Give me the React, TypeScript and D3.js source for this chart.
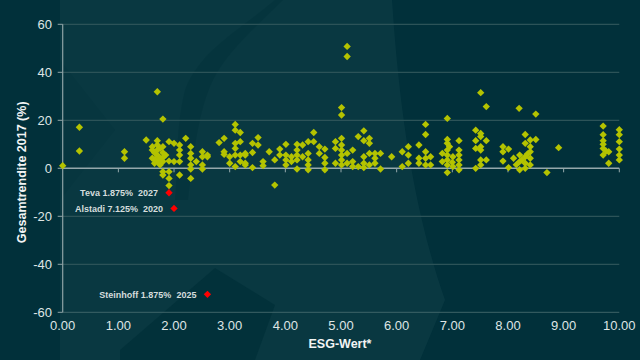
import React from "react";
import * as d3 from "d3";

const xTicks = [0, 1, 2, 3, 4, 5, 6, 7, 8, 9, 10];
const yTicks = [-60, -40, -20, 0, 20, 40, 60];

const bondPoints: [number, number][] = [
  [0.0, 1.1], [0.3, 17.1], [0.3, 7.2], [1.11, 6.9], [1.11, 4.2], [1.7, 31.9], [1.8, 20.5],
  [1.5, 11.8], [1.7, 11.5], [1.61, 9.0], [1.61, 7.6], [1.61, 4.2], [1.66, 3.8], [1.7, 9.7],
  [1.7, 7.6], [1.7, 5.5], [1.7, 2.8], [1.75, 4.2], [1.8, 9.0], [1.8, 6.5], [1.8, 2.8],
  [1.8, -1.4], [1.8, -2.8], [1.91, 11.1], [1.91, 3.0], [1.91, -1.4], [1.91, -4.2], [1.91, -7.2],
  [2.0, 10.4], [2.0, 2.8], [2.1, 9.7], [2.1, 7.6], [2.1, 5.5], [2.1, 2.8], [2.1, -2.8],
  [2.21, 12.5], [2.3, 9.0], [2.3, 6.2], [2.3, 4.2], [2.3, 1.4], [2.3, -0.3], [2.3, -4.2],
  [2.4, 2.8], [2.51, 6.9], [2.51, 4.8], [2.51, 1.4], [2.51, -0.3], [2.6, 5.5], [2.6, 4.8],
  [1.65, 6.5], [1.75, 8.3], [1.65, 2.1], [1.75, 1.4], [1.8, 4.5], [1.85, 5.5],
  [2.81, 10.7], [2.9, 12.5], [2.9, 6.9], [2.9, 5.8], [3.0, 4.8], [3.0, 2.1], [3.1, 18.3],
  [3.1, 15.9], [3.19, 14.9], [3.1, 10.4], [3.1, 8.3], [3.19, 11.1], [3.1, 5.5], [3.1, 0.7],
  [3.19, 5.5], [3.19, 2.8], [3.28, 5.5], [3.28, 1.4],
  [3.51, 12.8], [3.41, 10.4], [3.51, 9.7], [3.41, 6.6], [3.28, 6.2], [3.28, 2.1], [3.41, 0.3],
  [3.6, 2.8], [3.6, 1.1], [3.71, 6.9], [3.81, 3.5], [3.81, -7.0], [3.9, 8.0], [3.9, 5.5],
  [4.01, 10.0], [4.01, 5.5], [4.01, 3.5], [4.01, 1.4], [4.11, 4.8], [4.11, 2.8], [4.21, 10.0],
  [4.21, 7.6], [4.21, 5.5], [4.21, 3.5], [4.21, -0.3], [4.31, 9.7], [4.31, 4.8], [4.41, 11.1],
  [4.41, 6.2], [4.41, 3.5], [4.41, 1.4], [4.41, -0.6], [4.51, 14.9], [4.51, 11.1], [4.61, 9.0],
  [4.61, 6.2], [4.71, 8.0], [4.71, 4.5], [4.71, 2.1], [4.71, -0.6], [4.9, 11.1], [4.9, 8.3],
  [4.9, 2.1], [5.01, 25.3], [5.01, 22.2], [5.11, 50.8], [5.11, 46.6], [5.01, 12.5], [5.01, 9.7],
  [5.01, 7.6], [5.01, 5.5], [5.01, 3.5], [5.01, 1.4], [5.11, 6.2], [5.11, 2.1], [5.21, 7.6],
  [5.21, 2.8], [5.21, 0.7], [5.31, 13.2], [5.31, 0.7], [5.41, 15.6], [5.41, 11.5], [5.41, 4.8],
  [5.41, 2.1], [5.41, 0.3], [5.51, 12.5], [5.51, 10.4], [5.51, 6.2], [5.51, 1.4], [5.61, 6.2],
  [5.61, 4.2], [5.61, 2.1], [5.71, 6.2], [5.71, -0.3], [5.91, 4.8], [6.1, 6.9], [6.1, 0.7],
  [6.21, 9.0], [6.21, 5.5], [6.21, 2.1], [6.4, 9.7], [6.4, 4.2], [6.4, 2.1], [6.52, 18.3],
  [6.52, 14.1], [6.52, 6.9], [6.52, 4.2], [6.52, 1.4], [6.61, 4.8], [6.61, 1.4],
  [7.51, 31.5], [7.61, 25.7], [8.2, 25.0], [8.5, 22.6], [6.91, 20.8], [6.82, 6.2], [6.82, 2.8],
  [6.91, 12.0], [6.91, 10.4], [6.91, 7.6], [6.91, 5.5], [6.91, 3.5], [6.91, 1.4], [6.91, -1.8],
  [7.01, 4.8], [7.01, 0.7], [7.12, 11.5], [7.12, 7.6], [7.12, 5.5], [7.12, 3.5], [7.12, 1.4],
  [7.12, -0.6], [7.42, 15.9], [7.42, 11.5], [7.42, 8.3], [7.42, 0.0], [7.51, 14.5], [7.51, 13.2],
  [7.51, 9.0], [7.51, 7.6], [7.51, 3.5], [7.51, 1.4], [7.61, 11.5], [7.61, 3.5], [7.91, 9.0],
  [7.91, 6.9], [7.91, 3.0], [8.01, 8.0], [8.01, 0.3], [8.1, 4.2], [8.21, 5.5], [8.21, 2.8],
  [8.21, -0.6], [8.31, 14.1], [8.31, 10.4], [8.31, 4.8], [8.31, 2.1], [8.31, 0.0], [8.4, 11.8],
  [8.4, 9.0], [8.4, 6.9], [8.4, 4.2], [8.4, 1.4], [8.5, 12.0], [8.7, -1.8], [8.91, 8.6],
  [9.71, 17.6], [9.71, 11.5], [9.71, 8.3], [9.71, 5.5], [9.81, 6.9], [9.81, 2.1], [10.0, 16.1],
  [10.0, 11.1], [10.0, 5.5], [10.0, 3.5],
  [8.25, 3.5], [8.35, 6.0], [8.15, 1.5], [7.0, 2.5], [6.95, 9.0], [9.71, 14.0], [10.0, 8.0],
  [10.0, 14.0], [9.71, 10.0], [9.76, 7.2],
];

const highlightNames = ["Teva 1.875%  2027", "Alstadi 7.125%  2020", "Steinhoff 1.875%  2025"];
const highlightEsg = [1.91, 2.0, 2.6];
const highlightReturn = [-10.2, -16.7, -52.5];

const W = 640;
const H = 360;

export default function App() {
  const x = d3.scaleLinear().domain([0, 10]).range([62.7, 619.3]);
  const y = d3.scaleLinear().domain([-60, 60]).range([312.3, 24.3]);
  const diamond = d3.symbol().type(d3.symbolSquare).size(27)();
  const font = "'Liberation Sans', Arial, sans-serif";
  const [x0, x1] = x.range();

  return (
    <svg width={W} height={H} style={{ position: "absolute", left: 0, top: 0, display: "block" }} fontFamily={font}>
      <rect width={W} height={H} fill="#01303a" />
      {/* faint background swirl */}
      <path d="M60,0 L392,0 C398,90 410,200 445,300 L420,360 L60,360 Z" fill="#0a3a43" opacity={0.85} />
      <path d="M275,0 C240,30 200,50 185,90 C175,130 178,170 175,200 L188,200 C193,160 198,110 213,80 C228,50 258,25 283,0 Z" fill="#02313a" opacity={0.45} />
      <path d="M120,350 L215,268 L275,305 L255,360 L120,360 Z" fill="#02313a" opacity={0.9} />
      <path d="M60,60 L115,130 L60,200 Z" fill="#02313a" opacity={0.3} />

      {/* gridlines */}
      {yTicks.filter((t) => t !== 0 && t !== -60).map((t) => (
        <line key={t} x1={x0} x2={x1} y1={y(t)} y2={y(t)} stroke="#2c5358" strokeWidth={1.2} />
      ))}
      <line x1={x0} x2={x1} y1={y(-60)} y2={y(-60)} stroke="#3f6468" strokeWidth={1} />
      {/* zero line as x axis */}
      <line x1={x0} x2={x1} y1={y(0)} y2={y(0)} stroke="#95a8ab" strokeWidth={1.4} />
      {xTicks.slice(1).map((t) => (
        <line key={t} x1={x(t)} x2={x(t)} y1={y(0)} y2={y(0) + 4} stroke="#95a8ab" strokeWidth={1} />
      ))}
      {/* y axis */}
      <line x1={x0} x2={x0} y1={y(60)} y2={y(-60)} stroke="#8fa3a6" strokeWidth={1.2} />
      {yTicks.map((t) => (
        <g key={t}>
          <line x1={x0 - 5} x2={x0} y1={y(t)} y2={y(t)} stroke="#8fa3a6" strokeWidth={1} />
          <text x={52} y={y(t)} dy="0.36em" textAnchor="end" fontSize={13} fill="#dfe5e5">
            {t}
          </text>
        </g>
      ))}
      {xTicks.map((t) => (
        <text key={t} x={x(t)} y={330} textAnchor="middle" fontSize={13} fill="#dfe5e5">
          {t.toFixed(2)}
        </text>
      ))}

      {/* points */}
      {bondPoints.map(([ex, ry], i) => (
        <path key={i} d={diamond} transform={`translate(${x(ex)},${y(ry)}) rotate(45)`} fill="#b4c300" />
      ))}
      {highlightNames.map((n, i) => (
        <g key={n}>
          <path d={diamond} transform={`translate(${x(highlightEsg[i])},${y(highlightReturn[i])}) rotate(45)`} fill="#ff0000" />
          <text
            x={x(highlightEsg[i]) - 11}
            y={y(highlightReturn[i])}
            dy="0.4em"
            textAnchor="end"
            fontSize={9}
            fontWeight="bold"
            fill="#d5dddd"
            style={{ whiteSpace: "pre" }}
          >
            {n}
          </text>
        </g>
      ))}

      {/* axis titles */}
      <text x={340} y={348} textAnchor="middle" fontSize={12.5} fontWeight="bold" fill="#f2f4f4">
        ESG-Wert*
      </text>
      <text transform={`translate(26,${y(0) + 4}) rotate(-90)`} textAnchor="middle" fontSize={12.5} fontWeight="bold" fill="#f2f4f4">
        Gesamtrendite 2017 (%)
      </text>
    </svg>
  );
}
